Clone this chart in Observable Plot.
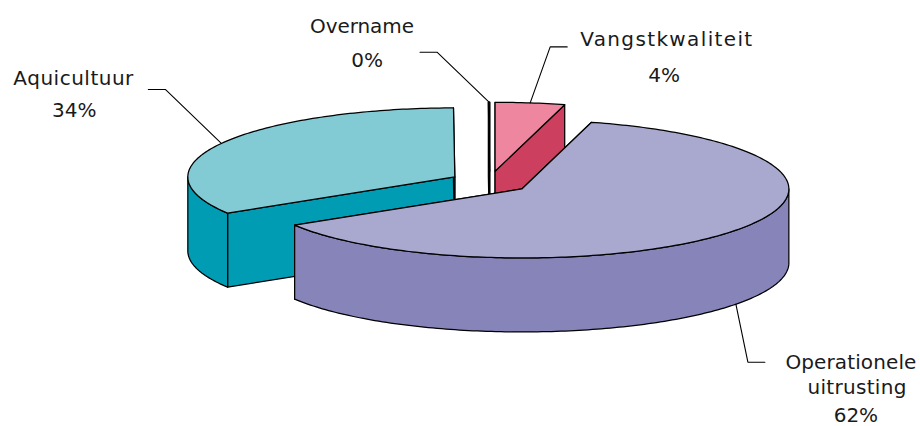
<!DOCTYPE html>
<html>
<head>
<meta charset="utf-8">
<script src="https://cdn.jsdelivr.net/npm/d3@7"></script>
<script src="https://cdn.jsdelivr.net/npm/@observablehq/plot@0.6"></script>
<style>html,body{margin:0;padding:0;background:#fff}svg{display:block}</style>
</head>
<body>
<div id="chart"></div>
<script>
// Data (clockwise from the top of the pie; the 0% slice ends exactly at 12 o'clock)
const categories = ["Overname", "Vangstkwaliteit", "Operationele uitrusting", "Aquicultuur"];
const shares = [0.08, 4.2, 62, 33.72];

// Styling
const topColors = ["#e8d9a0", "#EF86A0", "#A9A9CF", "#82CBD5"];
const sideColors = ["#b8a860", "#CC3F5F", "#8684B8", "#009CB4"];

// Pie projection
const pie = {cx: 489.3, cy: 181.8, rx: 267, ry: 69, depth: 74, ex: 40, ey: 11.1};
const drawOrder = [0, 1, 3, 2];

// Label layout, relative to each slice's leader anchor
const elbows = [[-52, -50], [20, -56], [12, 58], [-56, -54]];
const ends = [[-69, -50], [37, -56], [29, 58], [-73, -54]];
const nameLines = [["Overname"], ["Vangstkwaliteit"], ["Operationele", "uitrusting"], ["Aquicultuur"]];
const nameOffsets = [[[-58, -26]], [[99, -7]], [[86, 0], [92, 25]], [[-75, -11]]];
const pctOffsets = [[-53, 8], [97, 29], [91, 53], [-74, 21]];
const nameWidths = {"Overname": 104, "Vangstkwaliteit": 172, "Operationele": 131, "uitrusting": 99, "Aquicultuur": 120};

const rad = (d) => d * Math.PI / 180;
const total = d3.sum(shares);
let cum = -shares[0] / total * 360;
const slices = categories.map((name, i) => {
  const a0 = cum;
  const a1 = cum + shares[i] / total * 360;
  cum = a1;
  const mid = rad((a0 + a1) / 2);
  return {
    name, i, a0, a1, mid,
    ax: pie.cx + pie.ex * Math.sin(mid),
    ay: pie.cy - pie.ey * Math.cos(mid)
  };
});
const rimPoint = (s, a, dz = 0) => ({
  x: s.ax + pie.rx * Math.sin(rad(a)),
  y: s.ay - pie.ry * Math.cos(rad(a)) + dz
});
const arc = (s, a0, a1, dz = 0) => {
  const n = Math.max(2, Math.ceil(Math.abs(a1 - a0)));
  return d3.range(n + 1).map((k) => rimPoint(s, a0 + (a1 - a0) * k / n, dz));
};
const apex = (s, dz = 0) => ({x: s.ax, y: s.ay + dz});

const strokeOpts = {x: "x", y: "y", stroke: "#000", strokeWidth: 1.25, strokeLinejoin: "round", curve: "linear-closed"};
const marks = [];
for (const i of drawOrder) {
  const s = slices[i];
  const side = sideColors[s.i];
  for (const a of [s.a0, s.a1]) {
    marks.push(Plot.line([apex(s), rimPoint(s, a), rimPoint(s, a, pie.depth), apex(s, pie.depth)], {...strokeOpts, fill: side}));
  }
  const lo = Math.max(s.a0, 90), hi = Math.min(s.a1, 270);
  if (hi > lo) {
    marks.push(Plot.line([...arc(s, lo, hi), ...arc(s, hi, lo, pie.depth)], {...strokeOpts, fill: side}));
  }
  marks.push(Plot.line([apex(s), ...arc(s, s.a0, s.a1)], {...strokeOpts, fill: topColors[s.i]}));
}

// Leaders and labels
const textRows = [];
slices.forEach((s) => {
  const m = s.mid * 180 / Math.PI;
  const front = Math.cos(s.mid) < 0;
  const anchor = rimPoint(s, m, front ? pie.depth : 0);
  const elbow = {x: anchor.x + elbows[s.i][0], y: anchor.y + elbows[s.i][1]};
  const end = {x: anchor.x + ends[s.i][0], y: anchor.y + ends[s.i][1]};
  marks.push(Plot.line([anchor, elbow, end], {x: "x", y: "y", stroke: "#000", strokeWidth: 1.1}));
  nameLines[s.i].forEach((t, j) => {
    textRows.push({t, x: end.x + nameOffsets[s.i][j][0], y: end.y + nameOffsets[s.i][j][1]});
  });
  textRows.push({t: Math.round(shares[s.i]) + "%", x: end.x + pctOffsets[s.i][0], y: end.y + pctOffsets[s.i][1]});
});
marks.push(Plot.text(textRows, {
  x: "x", y: "y", text: "t", textAnchor: "middle", lineAnchor: "middle",
  fontFamily: "DejaVu Sans", fontSize: 20, fill: "#1a1a1a"
}));

const chart = Plot.plot({
  width: 920, height: 426, margin: 0,
  x: {domain: [0, 920], range: [0, 920], axis: null},
  y: {domain: [0, 426], range: [0, 426], axis: null},
  style: {background: "#fff", overflow: "hidden"},
  marks
});
d3.select(chart).selectAll("text").each(function () {
  const w = nameWidths[this.textContent];
  if (w) this.setAttribute("textLength", w);
});
document.getElementById("chart").append(chart);
</script>
</body>
</html>
